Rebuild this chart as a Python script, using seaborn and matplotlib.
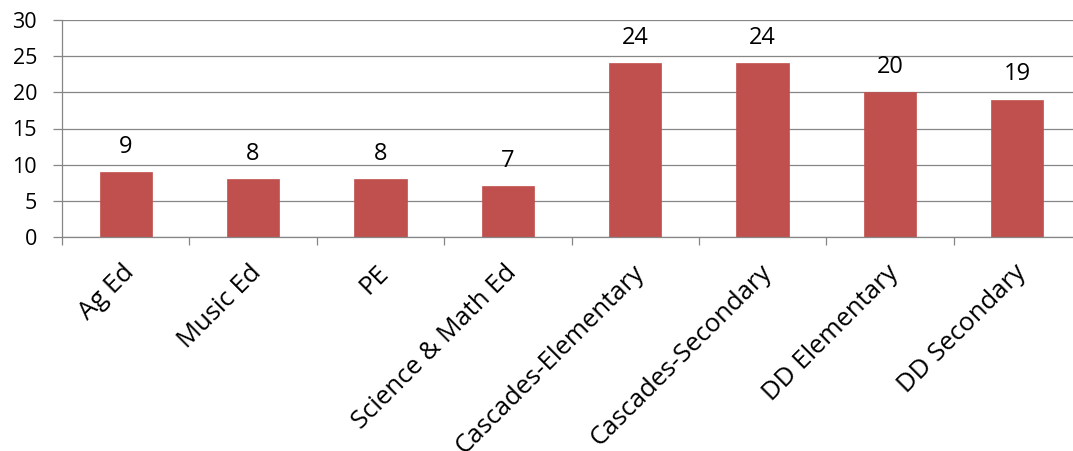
import matplotlib
matplotlib.use("Agg")
import matplotlib.pyplot as plt
import matplotlib.transforms as mtransforms
import seaborn as sns
import pandas as pd

categories = ["Ag Ed", "Music Ed", "PE", "Science & Math Ed",
              "Cascades-Elementary", "Cascades-Secondary",
              "DD Elementary", "DD Secondary"]
values = [9, 8, 8, 7, 24, 24, 20, 19]
yticks = [0, 5, 10, 15, 20, 25, 30]

sns.set_theme(style="white")
plt.rcParams['font.family'] = ['Open Sans', 'DejaVu Sans']

df = pd.DataFrame({"cat": categories, "val": values})

W, H = 1073, 451
fig = plt.figure(figsize=(W / 100, H / 100), dpi=100)
left, right, top, bottom = 62, 1081, 20, 237
ax = fig.add_axes([left / W, (H - bottom) / H, (right - left) / W, (bottom - top) / H])

sns.barplot(data=df, x="cat", y="val", color="#C0504D", saturation=1,
            width=0.41, ax=ax, edgecolor="#C0504D", linewidth=0.5)

ax.set_xlim(-0.5, len(categories) - 0.5)
ax.set_ylim(0, 30)
ax.set_yticks(yticks)
ax.yaxis.grid(True, color="#868686", linewidth=0.9)
ax.set_axisbelow(True)
for s in ["top", "right"]:
    ax.spines[s].set_visible(False)
for s in ["left", "bottom"]:
    ax.spines[s].set_color("#868686")
    ax.spines[s].set_linewidth(0.9)

ax.set_xlabel("")
ax.set_ylabel("")

ax.tick_params(axis="y", which="major", length=6.5, width=0.9, color="#868686",
               direction="out", labelsize=15.5, labelcolor="black", pad=11.5, left=True)
ax.set_xticks(range(len(categories)))
ax.set_xticklabels(categories)
ax.set_xticks([i - 0.5 for i in range(len(categories) + 1)], minor=True)
ax.tick_params(axis="x", which="major", length=0, labelsize=18.5, labelcolor="black", pad=23)
ax.tick_params(axis="x", which="minor", length=5.8, width=0.9, color="#868686",
               direction="out", bottom=True)

offset = mtransforms.ScaledTranslation(5 / 100, 0, fig.dpi_scale_trans)
for lab in ax.get_xticklabels():
    lab.set_rotation(45)
    lab.set_ha("right")
    lab.set_va("center")
    lab.set_rotation_mode("anchor")
    lab.set_transform(lab.get_transform() + offset)

for c in ax.containers:
    ax.bar_label(c, labels=[str(v) for v in values], padding=9.5, fontsize=17, color="black")

fig.savefig("out.png", dpi=100)
